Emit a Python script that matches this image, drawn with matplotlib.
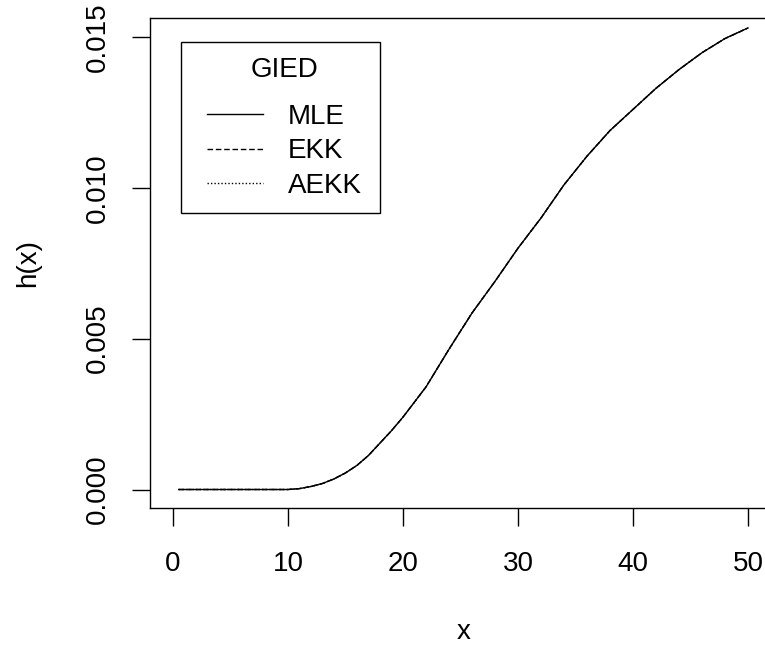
import matplotlib
matplotlib.use("Agg")
import matplotlib.pyplot as plt
from matplotlib.patches import Rectangle

# Data
x_vals = [0.5, 2, 4, 6, 8, 10, 11, 12, 13, 14, 15, 16, 17, 18, 19, 20, 22, 24, 26, 28,
          30, 32, 34, 36, 38, 40, 42, 44, 46, 48, 50]
h_mle = [0.0, 0.0, 0.0, 0.0, 0.0, 0.0, 0.00003, 0.00010, 0.00020, 0.00035, 0.00055,
         0.00080, 0.00113, 0.00154, 0.00195, 0.00240, 0.00340, 0.00465, 0.00585, 0.00690,
         0.00800, 0.00900, 0.01010, 0.01105, 0.01190, 0.01260, 0.01330, 0.01392, 0.01448,
         0.01495, 0.01530]
h_ekk = list(h_mle)
h_aekk = list(h_mle)

legend_title = "GIED"
series_labels = ["MLE", "EKK", "AEKK"]
x_ticks = [0, 10, 20, 30, 40, 50]
y_ticks = [0.000, 0.005, 0.010, 0.015]

plt.rcParams['font.family'] = ['Liberation Sans', 'DejaVu Sans']
FS = 20

W, H = 765, 647
fig = plt.figure(figsize=(W / 100, H / 100), dpi=100)
xlim = (-2.0, 52.5)
left_px, top_px, bottom_px = 150, 18, 508
x0_px, px_per_x = 173, 11.5
right_px = x0_px + xlim[1] * px_per_x
ax = fig.add_axes([left_px / W, 1 - bottom_px / H, (right_px - left_px) / W, (bottom_px - top_px) / H])

ax.plot(x_vals, h_mle, color='black', lw=1.0, ls='-', label=series_labels[0])
ax.plot(x_vals, h_ekk, color='black', lw=1.0, ls=(0, (4, 2)), label=series_labels[1])
ax.plot(x_vals, h_aekk, color='black', lw=1.0, ls=(0, (1, 1.5)), label=series_labels[2])

ax.set_xlim(*xlim)
ax.set_ylim(-0.000613, 0.01563)
ax.set_xticks(x_ticks)
ax.set_xticklabels([str(t) for t in x_ticks], fontsize=FS)
ax.set_yticks(y_ticks)
ax.set_yticklabels([f"{t:.3f}" for t in y_ticks], fontsize=FS, rotation=90, va='center')

for s in ax.spines.values():
    s.set_linewidth(1.0)
ax.tick_params(direction='out', length=13, width=1.0)
ax.tick_params(axis='x', pad=18)
ax.tick_params(axis='y', pad=15)

ax.set_xlabel("x", fontsize=FS, labelpad=30)
ax.set_ylabel("h(x)", fontsize=FS, labelpad=32)

leg = ax.legend(title=legend_title, loc='upper left',
                bbox_to_anchor=(207 / W, 1 - 57 / H), bbox_transform=fig.transFigure,
                borderaxespad=0, fontsize=FS, title_fontsize=FS, frameon=False,
                handlelength=2.0, handletextpad=0.9, borderpad=0, labelspacing=0.31)
leg._legend_box.sep = 15

# legend frame
fig.patches.append(Rectangle((181 / W, 1 - 213 / H), (380 - 181) / W, (213 - 42) / H,
                             transform=fig.transFigure, fill=False, edgecolor='black',
                             lw=1.0, zorder=5))

fig.savefig("out.png", dpi=100)
